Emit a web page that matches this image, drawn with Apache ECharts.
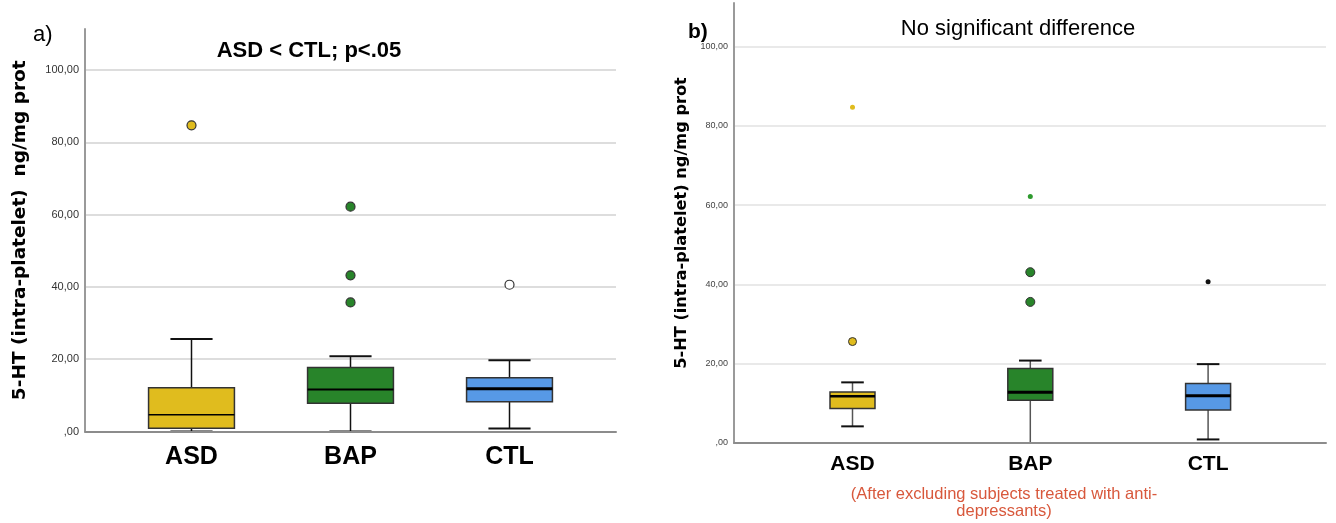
<!DOCTYPE html>
<html>
<head>
<meta charset="utf-8">
<script src="https://cdn.jsdelivr.net/npm/echarts@6/dist/echarts.min.js"></script>
<style>
html,body{margin:0;padding:0;background:#fff;}
#main{width:1336px;height:523px;}
</style>
</head>
<body>
<div id="main"></div>
<script>
// ---------- DATA ----------
const categories = ['ASD', 'BAP', 'CTL'];
const tickValues = [0, 20, 40, 60, 80, 100];
const tickLabels = [',00', '20,00', '40,00', '60,00', '80,00', '100,00'];

// Panel a: [min, Q1, median, Q3, max] per category
const boxA = [
  [0.0, 0.9, 4.6, 12.1, 25.6],
  [0.0, 7.8, 11.6, 17.7, 20.8],
  [0.8, 8.2, 11.8, 14.9, 19.7]
];
const outlierCatA = [0, 1, 1, 1, 2];
const outlierValA = [84.7, 62.2, 43.2, 35.7, 40.6];

// Panel b: [min, Q1, median, Q3, max] per category
const boxB = [
  [4.2, 8.7, 11.8, 12.9, 15.3],
  [0.0, 10.8, 12.8, 18.8, 20.8],
  [0.9, 8.3, 11.9, 15.0, 19.9]
];
const outlierCatB = [0, 0, 1, 1, 1, 2];
const outlierValB = [84.7, 25.6, 62.2, 43.1, 35.6, 40.7];

// ---------- STYLE ----------
const boxColors = ['#E0BC1E', '#28842A', '#5799E6'];
const NARROW = "'Liberation Sans Narrow', 'Arial Narrow', 'Liberation Sans', Arial, sans-serif";
const SANS = "'Liberation Sans', Arial, sans-serif";
const WIDE = "'DejaVu Sans', Verdana, sans-serif";
const outlierStyleA = [
  {fill: '#E0BC1E', size: 9},
  {fill: '#28842A', size: 9},
  {fill: '#28842A', size: 9},
  {fill: '#28842A', size: 9},
  {fill: '#FFFFFF', size: 9}
];
const outlierStyleB = [
  {fill: '#E0BC1E', size: 5, border: 0},
  {fill: '#E0BC1E', size: 8, border: 1},
  {fill: '#2E9A2E', size: 5, border: 0},
  {fill: '#28842A', size: 9, border: 1},
  {fill: '#28842A', size: 9, border: 1},
  {fill: '#111111', size: 5, border: 0}
];

function tickFmt(v) {
  const i = tickValues.indexOf(v);
  return i >= 0 ? tickLabels[i] : '';
}

function makeRender(boxFrac, capFrac, medW, whiskColor, boxBorder) {
  return function (params, api) {
    const idx = api.value(0);
    const lo = api.coord([idx, api.value(1)]);
    const q1 = api.coord([idx, api.value(2)]);
    const md = api.coord([idx, api.value(3)]);
    const q3 = api.coord([idx, api.value(4)]);
    const hi = api.coord([idx, api.value(5)]);
    const band = api.size([1, 0])[0];
    const bw = band * boxFrac, cw = band * capFrac;
    const x = lo[0];
    return {
      type: 'group',
      children: [
        {type: 'line', shape: {x1: x, y1: hi[1], x2: x, y2: q3[1]}, style: {stroke: whiskColor, lineWidth: 1.5}},
        {type: 'line', shape: {x1: x, y1: q1[1], x2: x, y2: lo[1]}, style: {stroke: whiskColor, lineWidth: 1.5}},
        {type: 'line', shape: {x1: x - cw / 2, y1: hi[1], x2: x + cw / 2, y2: hi[1]}, style: {stroke: '#111', lineWidth: 2}},
        {type: 'line', shape: {x1: x - cw / 2, y1: lo[1], x2: x + cw / 2, y2: lo[1]}, style: {stroke: '#111', lineWidth: 2}},
        {type: 'rect', shape: {x: x - bw / 2, y: q3[1], width: bw, height: q1[1] - q3[1]},
          style: {fill: boxColors[idx], stroke: boxBorder, lineWidth: 1.5}},
        {type: 'line', shape: {x1: x - bw / 2, y1: md[1], x2: x + bw / 2, y2: md[1]}, style: {stroke: '#000', lineWidth: medW[idx]}}
      ]
    };
  };
}

function boxData(box) {
  return box.map((b, i) => [i].concat(b));
}

// ---------- LAYOUT ----------
const A = {left: 85, right: 616, top: 29, valTop: 70, bottom: 431.5, plotL: 112, plotR: 589};
const B = {left: 734, right: 1326, top: 3, valTop: 46.7, bottom: 443, plotL: 763.6, plotR: 1297};

function frameAxes(P, gridIndex, yName, nameSize, nameGap, maxVal) {
  return {
    grid: {left: P.left, top: P.top, width: P.right - P.left, height: P.bottom - P.top},
    x: {type: 'category', gridIndex: gridIndex, data: [''], axisLine: {show: true, lineStyle: {color: '#8c8c8c', width: 2}},
      axisTick: {show: false}, axisLabel: {show: false}, splitLine: {show: false}, z: 5},
    y: {type: 'value', gridIndex: gridIndex, min: 0, max: maxVal, axisLine: {show: true, lineStyle: {color: '#9a9a9a', width: 2}},
      axisTick: {show: false}, axisLabel: {show: false}, splitLine: {show: false},
      name: yName, nameLocation: 'middle', nameGap: nameGap,
      nameTextStyle: {fontFamily: WIDE, fontWeight: 'bold', fontSize: nameSize, color: '#000'}}
  };
}

const fa = frameAxes(A, 0, '5-HT (intra-platelet)  ng/mg prot', 18.5, 55.5, 111.3);
const fb = frameAxes(B, 3, '5-HT (intra-platelet) ng/mg prot', 16.2, 44.5, 111.0);

const grids = [
  fa.grid,
  {left: A.left, top: A.valTop, width: A.right - A.left, height: A.bottom - A.valTop},
  {left: A.plotL, top: A.valTop, width: A.plotR - A.plotL, height: A.bottom - A.valTop},
  fb.grid,
  {left: B.left, top: B.valTop, width: B.right - B.left, height: B.bottom - B.valTop},
  {left: B.plotL, top: B.valTop, width: B.plotR - B.plotL, height: B.bottom - B.valTop}
];

function valueAxis(gridIndex, showLabels, labelSize, labelColor, splitColor, splitW) {
  return {
    type: 'value', gridIndex: gridIndex, min: 0, max: 100, interval: 20,
    axisLine: {show: false}, axisTick: {show: false},
    axisLabel: {show: showLabels, formatter: tickFmt, fontFamily: NARROW, fontSize: labelSize, color: labelColor, margin: 6},
    splitLine: {show: showLabels, lineStyle: {color: splitColor, width: splitW}}
  };
}

const option = {
  animation: false,
  backgroundColor: '#fff',
  grid: grids,
  xAxis: [
    fa.x,
    {type: 'category', gridIndex: 1, data: [''], show: false},
    {type: 'category', gridIndex: 2, data: categories, axisLine: {show: false}, axisTick: {show: false},
      axisLabel: {fontFamily: SANS, fontWeight: 'bold', fontSize: 25, color: '#000', margin: 13}},
    fb.x,
    {type: 'category', gridIndex: 4, data: [''], show: false},
    {type: 'category', gridIndex: 5, data: categories, axisLine: {show: false}, axisTick: {show: false},
      axisLabel: {fontFamily: SANS, fontWeight: 'bold', fontSize: 21, color: '#000', margin: 11}}
  ],
  yAxis: [
    fa.y,
    valueAxis(1, true, 11, '#333', '#d2d2d2', 1.5),
    valueAxis(2, false),
    fb.y,
    valueAxis(4, true, 9, '#444', '#e2e2e2', 1.5),
    valueAxis(5, false)
  ],
  title: [
    {text: 'a)', left: 28, top: 19, textStyle: {fontFamily: SANS, fontSize: 22, fontWeight: 'normal', color: '#000'}},
    {text: 'ASD < CTL; p<.05', left: 304, top: 35, textAlign: 'center',
      textStyle: {fontFamily: NARROW, fontSize: 22, fontWeight: 'bold', color: '#000'}},
    {text: 'b)', left: 683, top: 17, textStyle: {fontFamily: SANS, fontSize: 21, fontWeight: 'bold', color: '#000'}},
    {text: 'No significant difference', left: 1013, top: 13, textAlign: 'center',
      textStyle: {fontFamily: NARROW, fontSize: 22, fontWeight: 'normal', color: '#000'}},
    {text: '(After excluding subjects treated with anti-\ndepressants)', left: 999, top: 481, textAlign: 'center',
      textStyle: {fontFamily: NARROW, fontSize: 16.5, lineHeight: 17, fontWeight: 'normal', color: '#D8583C', align: 'center'}}
  ],
  series: [
    {type: 'custom', xAxisIndex: 2, yAxisIndex: 2, renderItem: makeRender(0.54, 0.265, [1.5, 2, 3], '#111', '#333'),
      data: boxData(boxA), z: 3},
    {type: 'scatter', xAxisIndex: 2, yAxisIndex: 2, symbol: 'circle', z: 4,
      data: outlierCatA.map((c, i) => ({value: [c, outlierValA[i]], symbolSize: outlierStyleA[i].size,
        itemStyle: {color: outlierStyleA[i].fill, borderColor: '#333', borderWidth: 1.2, opacity: 1}}))},
    {type: 'custom', xAxisIndex: 5, yAxisIndex: 5, renderItem: makeRender(0.253, 0.127, [2.5, 3, 3], '#555', '#333'),
      data: boxData(boxB), z: 3},
    {type: 'scatter', xAxisIndex: 5, yAxisIndex: 5, symbol: 'circle', z: 4,
      data: outlierCatB.map((c, i) => ({value: [c, outlierValB[i]], symbolSize: outlierStyleB[i].size,
        itemStyle: {color: outlierStyleB[i].fill, borderColor: '#333', borderWidth: outlierStyleB[i].border, opacity: 1}}))}
  ]
};

const chart = echarts.init(document.getElementById('main'), null, {renderer: 'canvas'});
chart.setOption(option);
</script>
</body>
</html>
